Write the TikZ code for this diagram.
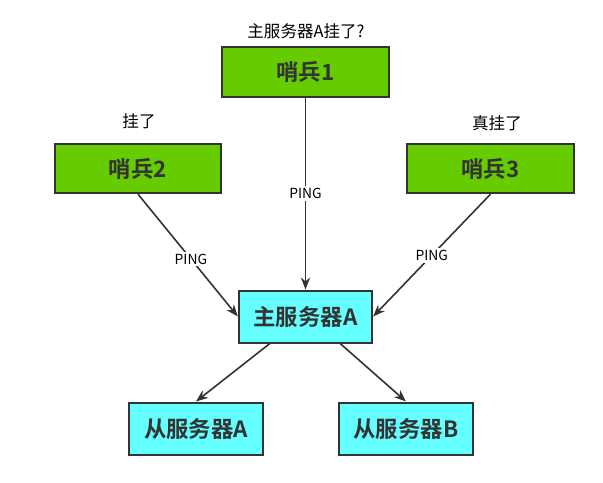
\documentclass[tikz,border=0pt]{standalone}
\usepackage{fontspec}
\usepackage{xcolor}
\setmainfont{Noto Sans CJK SC}
\newfontfamily\boldcjk{Noto Sans CJK SC Bold}
\usepackage{tikz}
\usetikzlibrary{arrows.meta,shapes}
\definecolor{sentgreen}{HTML}{66CC00}
\definecolor{srvcyan}{HTML}{66FFFF}
\definecolor{edgegray}{HTML}{333333}
\tikzset{
sentinel/.style={draw=edgegray,line width=1.5pt,fill=sentgreen,minimum width=125pt,minimum height=37pt,font=\boldcjk\fontsize{16.8}{16.8}\selectfont,text=edgegray},
server/.style={draw=edgegray,line width=1.5pt,fill=srvcyan,minimum width=100pt,minimum height=39pt,font=\boldcjk\fontsize{16.8}{16.8}\selectfont,text=edgegray},
note/.style={font=\fontsize{12.4}{12.4}\selectfont,text=black},
ping/.style={font=\fontsize{10.4}{10.4}\selectfont,fill=white,inner sep=1.5pt}
}
\begin{document}
\begin{tikzpicture}[x=0.75pt,y=-0.75pt,>={Stealth[length=9pt,width=7pt]}]
\useasboundingbox(0,0)rectangle(603,482);
\node[sentinel](s1)at(305.5,72){哨兵1};
\node[sentinel](s2)at(138,168.5){哨兵2};
\node[sentinel](s3)at(490.5,168.5){哨兵3};
\node[server](master)at(305.5,316.5){主服务器A};
\node[server](slaveA)at(196,428.5){从服务器A};
\node[server](slaveB)at(406,428.5){从服务器B};
\node[note](q1)at(306,31){主服务器A挂了?};
\node[note](q2)at(139,121){挂了};
\node[note](q3)at(497,123){真挂了};
\draw[->,line width=1.2pt,edgegray](s1)--node[ping,text=black]{PING}(master);
\draw[->,line width=1.2pt,edgegray](s2.south)--node[ping,text=black,pos=0.53]{PING}(master.west);
\draw[->,line width=1.2pt,edgegray](s3.south)--node[ping,text=black,pos=0.50]{PING}(master.east);
\draw[->,line width=1.2pt,edgegray](master.south west)++(32,0)--(slaveA.north);
\draw[->,line width=1.2pt,edgegray](master.south east)++(-33,0)--(slaveB.north);
\end{tikzpicture}
\end{document}
